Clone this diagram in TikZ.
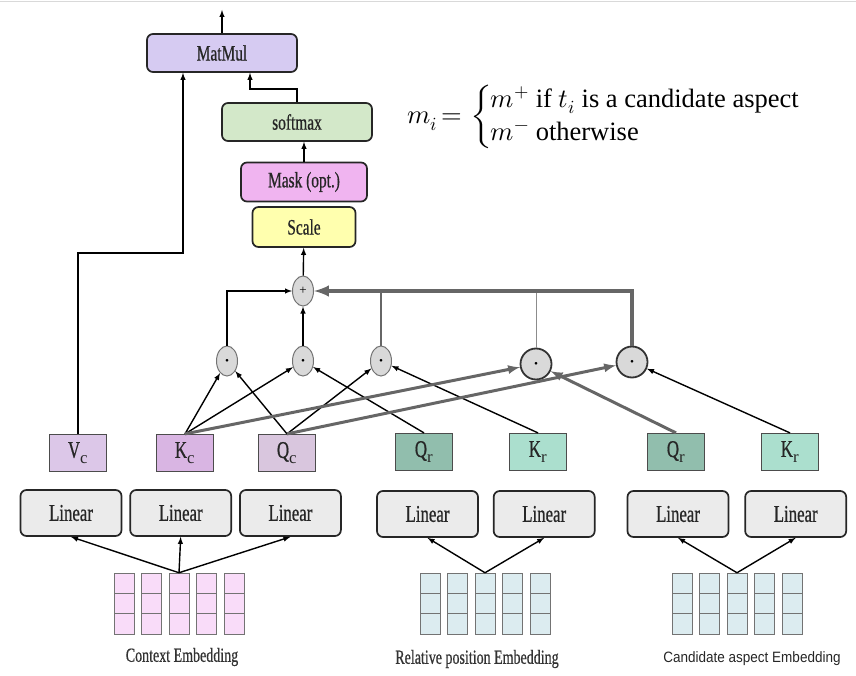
\documentclass[tikz,border=0pt]{standalone}
\usepackage{amsmath}
\usepackage{unicode-math}
\setmainfont{Liberation Serif}
\newfontfamily\narrowfont[FakeStretch=0.7, FakeBold=0.6]{Liberation Serif}
\newfontfamily\rulefont{Liberation Serif}
\newfontfamily\labelsans[FakeStretch=0.9]{Liberation Sans}
\usetikzlibrary{shapes.geometric, arrows, positioning, calc}

\definecolor{matmulcol}{HTML}{D6CBF2}
\definecolor{softmaxcol}{HTML}{D3E8C9}
\definecolor{maskcol}{HTML}{F0B4F0}
\definecolor{scalecol}{HTML}{FFFFAE}
\definecolor{lincol}{HTML}{EBEBEB}
\definecolor{vccol}{HTML}{DCC7E8}
\definecolor{kccol}{HTML}{D9B5E3}
\definecolor{qccol}{HTML}{D9C6DE}
\definecolor{qrcol}{HTML}{91BEAD}
\definecolor{krcol}{HTML}{ABDFCE}
\definecolor{ctxcol}{HTML}{F9DCF9}
\definecolor{relcol}{HTML}{DCECF0}
\definecolor{linkgray}{HTML}{666666}

\newcommand{\prodmark}{{\fontsize{7}{7}\selectfont$\bullet$}}

\tikzset{
  op/.style={draw=black!85, line width=1.7pt, rounded corners=6pt, inner sep=0pt, text=black!85, font=\narrowfont\fontsize{22}{24}\selectfont},
  lin/.style={op, fill=lincol, minimum width=101pt, minimum height=46pt, font=\narrowfont\fontsize{24}{26}\selectfont},
  proj/.style={draw=black!70, line width=1.2pt, minimum width=57pt, minimum height=37pt, inner sep=0pt, text=black!85, font=\narrowfont\fontsize{24}{26}\selectfont},
  dotop/.style={ellipse, draw=black!55, fill=black!15, line width=1pt, minimum width=21pt, minimum height=30pt, inner sep=0pt, font=\fontsize{13}{13}\selectfont},
  bigdot/.style={circle, draw=black!80, fill=black!15, line width=1.8pt, minimum size=31pt, inner sep=0pt},
  cell/.style={draw=black!55, line width=0.8pt, minimum width=20pt, minimum height=20.3pt, inner sep=0pt},
  embtext/.style={font=\narrowfont\fontsize{20}{22}\selectfont, text=black!80},
  wide/.style={draw=linkgray, line width=3pt, ->},
}

\begin{document}
\begin{tikzpicture}[x=1pt, y=-1pt, >=latex, line width=1.4pt]
\useasboundingbox (0,0) rectangle (856,676);
\draw[black!15, line width=1pt] (0,2) -- (856,2);

% attention stack
\node[op, fill=matmulcol, minimum width=150pt, minimum height=38pt] (matmul) at (222,53) {MatMul};
\node[op, fill=softmaxcol, minimum width=150pt, minimum height=38pt] (softmax) at (297,122) {softmax};
\node[op, fill=maskcol, minimum width=126pt, minimum height=39pt] (mask) at (304,182) {Mask (opt.)};
\node[op, fill=scalecol, minimum width=103pt, minimum height=40pt] (scale) at (304,227) {Scale};

\node[anchor=west, font=\fontsize{26.5}{27.5}\selectfont] (mrule) at (403,117)
  {$m_i \,{=}\, \begin{cases} m^{+} \text{\rulefont\ if } t_i \text{\rulefont\ is a candidate aspect}\\ m^{-} \text{\rulefont\ otherwise}\end{cases}$};

% products and sum
\node[dotop] (plus) at (303,291) {+};
\node[dotop] (kcqc) at (227,361) {\prodmark};
\node[dotop] (kcqr) at (303,361) {\prodmark};
\node[dotop] (qckr) at (381,361) {\prodmark};
\node[bigdot] (kcqa) at (536,364) {\prodmark};
\node[bigdot] (qcka) at (632,362) {\prodmark};

% projections
\node[proj, fill=vccol] (vc) at (78,453) {V$_{\mathrm{c}}$};
\node[proj, fill=kccol] (kc) at (185,453) {K$_{\mathrm{c}}$};
\node[proj, fill=qccol] (qc) at (287,453) {Q$_{\mathrm{c}}$};
\node[proj, fill=qrcol] (qr) at (424,452) {Q$_{\mathrm{r}}$};
\node[proj, fill=krcol] (kr) at (538,452) {K$_{\mathrm{r}}$};
\node[proj, fill=qrcol] (qa) at (676,452) {Q$_{\mathrm{r}}$};
\node[proj, fill=krcol] (ka) at (790,452) {K$_{\mathrm{r}}$};

\node[lin] (lin1) at (71,513) {Linear};
\node[lin, right=7pt of lin1] (lin2) {Linear};
\node[lin, right=7pt of lin2] (lin3) {Linear};
\node[lin] (lin4) at (427.5,514) {Linear};
\node[lin, right=14pt of lin4] (lin5) {Linear};
\node[lin] (lin6) at (678,514) {Linear};
\node[lin, right=15pt of lin6] (lin7) {Linear};

% embeddings
\foreach \i in {0,...,4}
  \foreach \j in {1,2,3} {
    \node[cell, fill=ctxcol] (ctx-\i-\j) at (124+27.5*\i, 563+20.3*\j) {};
    \node[cell, fill=relcol] (rel-\i-\j) at (430+27.5*\i, 563+20.3*\j) {};
    \node[cell, fill=relcol] (cand-\i-\j) at (682+27.5*\i, 563+20.3*\j) {};
  }

\node[embtext] (ctxlabel) at (182,657) {Context Embedding};
\node[embtext] (rellabel) at (477,659) {Relative position Embedding};
\node[font=\labelsans\fontsize{15}{18}\selectfont, text=black!85] (candlabel) at (752,659) {Candidate aspect Embedding};

% embeddings to linear layers
\draw[->] (ctx-2-1.north) -- (lin1.south);
\draw[->] (ctx-2-1.north) -- (lin2.south);
\draw[->] (ctx-2-1.north) -- (lin3.south);
\draw[->] (rel-2-1.north) -- (lin4.south);
\draw[->] (rel-2-1.north) -- (lin5.south);
\draw[->] (cand-2-1.north) -- (lin6.south);
\draw[->] (cand-2-1.north) -- (lin7.south);

% scores
\draw[->] (kc.north) -- (kcqc);
\draw[->] (qc.north) -- (kcqc);
\draw[->] (kc.north) -- (kcqr);
\draw[->] (qr.north) -- (kcqr);
\draw[->] (qc.north) -- (qckr);
\draw[->] (kr.north) -- (qckr);
\draw[wide] (kc.north) -- (kcqa);
\draw[wide] (qc.north) -- (qcka);
\draw[wide] (qa.north) -- (kcqa);
\draw[->] (ka.north) -- (qcka);

\draw[->] (kcqc.north) |- (plus.west);
\draw[->] (kcqr) -- (plus);
\draw[linkgray, line width=1.5pt] (qckr.north) -- (qckr |- plus.east);
\draw[black!45, line width=0.8pt] (kcqa.north) -- (kcqa |- plus.east);
\draw[wide, line width=4pt] (qcka.north) |- (plus.east);

\draw[->] (plus) -- (scale);
\draw[->] (mask.north) -- (mask.north |- softmax.south);

\coordinate (sturn) at (250,89);
\coordinate (vturn) at (183,253);
\coordinate (out) at (222,10);
\draw[->] (softmax.north) |- (sturn) -- (sturn |- matmul.south);
\draw[->] (vc.north) |- (vturn) -- (vturn |- matmul.south);
\draw[->] (matmul) -- (out);

\end{tikzpicture}
\end{document}
